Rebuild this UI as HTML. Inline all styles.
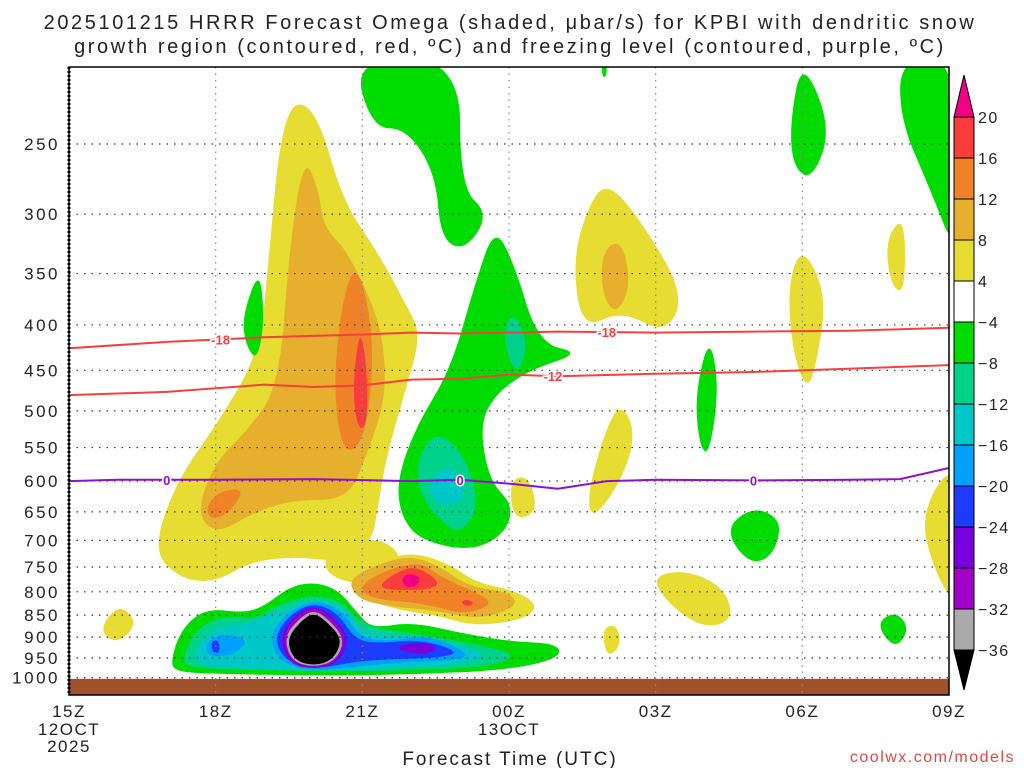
<!DOCTYPE html>
<html><head><meta charset="utf-8"><style>
body{margin:0;background:#fff;}
svg{display:block;font-family:"Liberation Sans",sans-serif;}
</style></head><body>
<svg id="chart" width="1024" height="768" viewBox="0 0 1024 768" xmlns="http://www.w3.org/2000/svg">
<text x="510" y="29" font-size="20" letter-spacing="2.6" text-anchor="middle" fill="#222">2025101215 HRRR Forecast Omega (shaded, μbar/s) for KPBI with dendritic snow</text>
<text x="510" y="53" font-size="20" letter-spacing="2.6" text-anchor="middle" fill="#222">growth region (contoured, red, ºC) and freezing level (contoured, purple, ºC)</text>
<defs><clipPath id="pc"><rect x="69" y="67" width="880" height="628"/></clipPath></defs>
<g id="shades" clip-path="url(#pc)"></g>
<g id="grid"></g>
<g id="contours" clip-path="url(#pc)"></g>
<rect x="69" y="67" width="880" height="628" fill="none" stroke="#000" stroke-width="1.5"/>
<g id="axes"></g>
<g id="cbar"></g>
<text x="510" y="765" font-size="19" letter-spacing="2" text-anchor="middle" fill="#222">Forecast Time (UTC)</text>
<text x="1015" y="762" font-size="16" letter-spacing="1.5" text-anchor="end" fill="#e04848">coolwx.com/models</text>
</svg>
<script>
const pressureTicks=[250,300,350,400,450,500,550,600,650,700,750,800,850,900,950,1000];
const timeTicks=["15Z","18Z","21Z","00Z","03Z","06Z","09Z"];
const cbLevels=["20","16","12","8","4","-4","-8","-12","-16","-20","-24","-28","-32","-36"];
const cbColors=["#fa3c3c","#f08228","#e6af2d","#e6dc32","#ffffff","#00dc00","#00d28c","#00c8c8","#00a0ff","#1e3cff","#7800dc","#a000c8","#aaaaaa"];
const colorOf={y:"#e6dc32",lo:"#e6af2d",o:"#f08228",r:"#fa3c3c",m:"#f00082",g:"#00dc00",t:"#00d28c",c:"#00c8c8",b:"#00a0ff",db:"#1e3cff",p:"#7800dc",v:"#a000c8",gr:"#aaaaaa",k:"#000000"};
const polys=[
["y",[[1.7,720],[2.2,600],[3.0,520],[3.9,430],[4.1,330],[4.3,250],[4.6,222],[5.1,232],[5.6,290],[6.3,330],[6.9,380],[7.2,410],[6.9,470],[6.5,560],[6.3,650],[6.2,700],[5.6,740],[4.6,730],[3.7,740],[3.0,780],[2.3,775]]],
["y",[[5.2,725],[6.3,690],[6.9,735],[6.2,790],[5.3,770]]],
["lo",[[2.6,650],[3.0,570],[3.6,530],[4.3,470],[4.5,330],[4.8,258],[5.1,280],[5.2,310],[5.7,330],[6.4,400],[6.5,480],[6.1,560],[5.7,630],[4.6,630],[3.8,650],[3.0,690]]],
["o",[[2.8,640],[3.1,615],[3.6,612],[3.3,650],[2.9,665]]],
["o",[[5.4,470],[5.6,370],[5.9,340],[6.2,400],[6.2,470],[6.0,545],[5.6,560]]],
["r",[[5.8,470],[5.95,400],[6.1,450],[6.1,520],[5.9,525]]],
["y",[[5.69,760],[6.2,745],[7.0,720],[7.8,745],[8.3,780],[9.2,800],[9.6,830],[9.3,860],[8.3,875],[7.5,850],[6.8,840],[6.0,815]]],
["lo",[[5.7,775],[6.3,745],[7.0,728],[7.6,750],[8.2,790],[9.0,800],[9.2,830],[8.4,860],[7.5,840],[6.5,830],[5.9,815]]],
["o",[[5.9,790],[6.5,755],[7.2,740],[7.6,770],[8.3,800],[8.7,825],[8.1,850],[7.3,825],[6.2,815]]],
["r",[[6.3,790],[6.7,760],[7.1,748],[7.6,780],[7.4,795],[6.7,797]]],
["m",[[6.8,770],[7.0,762],[7.2,772],[7.1,790],[6.85,790]]],
["r",[[8.0,822],[8.15,815],[8.3,825],[8.15,832]]],
["y",[[0.8,850],[1.1,830],[1.4,870],[1.0,915],[0.65,890]]],
["y",[[10.3,340],[10.6,295],[11.0,275],[11.7,305],[12.6,370],[12.2,410],[11.3,385],[10.5,405]]],
["lo",[[10.9,330],[11.3,320],[11.5,360],[11.2,390],[10.9,370]]],
["y",[[14.7,360],[15.0,325],[15.5,370],[15.3,440],[15.1,475],[14.8,430]]],
["y",[[10.6,620],[11.0,520],[11.3,490],[11.6,530],[11.3,600],[10.7,665]]],
["y",[[9.0,600],[9.4,590],[9.6,650],[9.1,665]]],
["y",[[11.9,770],[12.6,755],[13.4,790],[13.6,860],[13.0,880],[12.3,830]]],
["y",[[10.9,880],[11.2,870],[11.3,920],[11.0,950]]],
["y",[[16.7,320],[17.1,300],[17.1,370],[16.8,360]]],
["y",[[17.4,650],[18.2,560],[18.2,840],[17.7,760]]],
["g",[[5.8,200],[8.0,200],[8.0,280],[8.6,300],[8.1,330],[7.6,320],[7.5,270],[6.9,240],[6.2,240]]],
["g",[[10.9,200],[11.0,200],[11.0,210],[10.9,210]]],
["g",[[14.8,265],[14.75,235],[15.0,200],[15.6,240],[15.2,275]]],
["g",[[17.0,200],[18.2,200],[18.2,340],[17.6,280],[17.0,235]]],
["g",[[3.55,390],[3.9,345],[4.0,395],[3.85,440],[3.6,420]]],
["g",[[12.8,480],[13.1,410],[13.3,470],[13.1,560],[12.9,550]]],
["g",[[13.4,680],[14.0,640],[14.6,665],[14.4,730],[13.9,745]]],
["g",[[16.5,870],[16.9,840],[17.2,880],[16.9,930]]],
["g",[[6.7,600],[7.1,520],[7.8,450],[8.3,360],[8.7,310],[9.1,340],[9.6,420],[10.5,430],[9.4,450],[8.7,480],[8.4,520],[8.6,600],[9.1,640],[8.9,690],[8.2,720],[7.2,700],[6.8,660]]],
["t",[[7.1,570],[7.5,525],[8.1,560],[8.4,640],[8.0,690],[7.6,665],[7.2,625]]],
["c",[[7.3,605],[7.8,570],[8.2,625],[7.6,645]]],
["t",[[8.85,410],[9.1,385],[9.4,420],[9.15,460]]],
["g",[[2.07,960],[2.3,880],[2.8,835],[3.6,845],[4.0,830],[4.5,790],[5.0,780],[5.5,795],[5.9,845],[6.2,880],[7.0,865],[8.0,890],[9.0,910],[10.0,915],[10.05,950],[9.0,980],[7.0,992],[5.0,995],[3.0,990],[2.2,985]]],
["t",[[2.3,955],[2.6,880],[3.2,850],[3.8,860],[4.2,830],[5.0,805],[5.6,820],[6.0,875],[7.0,890],[8.5,920],[9.2,945],[8.5,975],[6.0,985],[3.5,980],[2.5,975]]],
["c",[[2.5,945],[2.9,880],[3.6,870],[4.1,850],[5.0,815],[5.7,835],[5.95,890],[7.2,900],[8.4,930],[8.5,960],[6.5,978],[4.5,982],[2.8,972]]],
["b",[[2.75,920],[3.1,890],[3.7,905],[3.4,940],[2.9,950]]],
["db",[[2.9,910],[3.05,905],[3.1,935],[2.95,940]]],
["b",[[4.1,900],[4.4,850],[5.0,815],[5.6,840],[5.95,900],[6.5,910],[7.3,895],[8.0,925],[8.2,955],[6.5,962],[5.0,985],[4.3,960]]],
["db",[[4.2,900],[4.5,850],[5.0,822],[5.5,845],[5.85,905],[6.3,915],[7.2,905],[8.0,935],[7.6,950],[6.0,955],[5.0,980],[4.4,955]]],
["p",[[4.3,900],[4.6,850],[5.0,828],[5.4,850],[5.75,905],[5.5,965],[5.0,978],[4.5,965]]],
["p",[[6.6,925],[7.2,910],[7.6,925],[7.2,945]]],
["v",[[4.35,900],[4.65,852],[5.0,833],[5.35,853],[5.7,905],[5.45,962],[5.0,975],[4.55,962]]],
["gr",[[4.4,900],[4.7,858],[5.0,838],[5.3,858],[5.65,905],[5.45,958],[5.0,973],[4.55,958]]],
["k",[[4.45,905],[4.75,862],[5.0,845],[5.25,862],[5.6,905],[5.4,955],[5.0,970],[4.6,955]]]
];
const isoM18=[[0,425],[2,418],[4,413],[6,410],[7,408],[8,409],[10,407],[12,408],[14,407],[16,406],[18,403]];
const isoM12=[[0,480],[2,476],[4,467],[5,470],[6,468],[7,461],[8,460],[9,455],[10,457],[12,454],[14,452],[16,448],[18,444]];
const iso0=[[0,600],[1,598],[3,598],[5,597],[7,600],[8,598],[9,604],[10,612],[11,600],[12,598],[14,599],[16,598],[17,597],[18,580]];
const lblM18=[3.1,11.0], lblM12=[9.9], lbl0=[2.0,8.0,14.0];

const NS="http://www.w3.org/2000/svg";
const X=h=>69+h*880/18;
const Y=p=>144+385*Math.log(p/250);
function mk(tag,attrs,parent){const e=document.createElementNS(NS,tag);for(const k in attrs)e.setAttribute(k,attrs[k]);parent.appendChild(e);return e;}
function smooth(pts){const P=pts.map(([h,p])=>[X(h),Y(p)]);const n=P.length;const mid=(a,b)=>[(a[0]+b[0])/2,(a[1]+b[1])/2];
 let m0=mid(P[n-1],P[0]);let d="M"+m0[0].toFixed(1)+","+m0[1].toFixed(1);
 for(let i=0;i<n;i++){const m=mid(P[i],P[(i+1)%n]);d+=" Q"+P[i][0].toFixed(1)+","+P[i][1].toFixed(1)+" "+m[0].toFixed(1)+","+m[1].toFixed(1);}return d+"Z";}
const sh=document.getElementById("shades");
polys.forEach(([k,pts])=>{const el=mk("path",{d:smooth(pts),fill:colorOf[k]},sh);
 
 });
const gnd=mk("rect",{x:69,y:Y(1003),width:880,height:40,fill:"#a0522d"},sh);



const gr=document.getElementById("grid");
pressureTicks.forEach(p=>{const l=mk("line",{x1:69,x2:949,y1:Y(p),y2:Y(p),stroke:"#333","stroke-width":1.2,"stroke-dasharray":"1.5 6"},gr);
 
 });
timeTicks.forEach((t,i)=>{if(i==0||i==timeTicks.length-1)return;const l=mk("line",{x1:X(i*3),x2:X(i*3),y1:67,y2:695,stroke:"#888","stroke-width":1.2,"stroke-dasharray":"1.5 5"},gr);
 
 });

const ct=document.getElementById("contours");
function drawLine(pts,col,lbls,txt,name){const d=pts.map(([h,p],i)=>(i?"L":"M")+X(h).toFixed(1)+","+Y(p).toFixed(1)).join(" ");
 const l=mk("path",{d:d,fill:"none",stroke:col,"stroke-width":2},ct);
 
 
 lbls.forEach(h=>{let p=pts[0][1];for(let i=0;i<pts.length-1;i++){if(h>=pts[i][0]&&h<=pts[i+1][0]){const f=(h-pts[i][0])/(pts[i+1][0]-pts[i][0]);p=pts[i][1]+f*(pts[i+1][1]-pts[i][1]);}}
  const t=mk("text",{x:X(h),y:Y(p)+5,"font-size":13,"font-weight":"bold","text-anchor":"middle",fill:col,stroke:"#fff","stroke-width":3,"paint-order":"stroke"},ct);t.textContent=txt;
  
  });}
drawLine(isoM18,"#f44040",lblM18,"-18","contour-minus18");
drawLine(isoM12,"#f44040",lblM12,"-12","contour-minus12");
drawLine(iso0,"#9010d0",lbl0,"0","freezing-level");

const ax=document.getElementById("axes");
for(let y=67;y<695;y+=4){mk("line",{x1:69,x2:69,y1:y,y2:y+2,stroke:"#000","stroke-width":3},ax);}
pressureTicks.forEach(p=>{const t=mk("text",{x:60,y:Y(p)+6,"font-size":17,"letter-spacing":"2.5","text-anchor":"end",fill:"#222"},ax);t.textContent=p;
 
 });
timeTicks.forEach((s,i)=>{const t=mk("text",{x:X(i*3),y:717,"font-size":17,"letter-spacing":"1.5","text-anchor":"middle",fill:"#222"},ax);t.textContent=s;
 
 });
[["12OCT",0,735],["2025",0,752],["13OCT",9,735]].forEach(([s,h,y])=>{const t=mk("text",{x:X(h),y:y,"font-size":17,"letter-spacing":"1.5","text-anchor":"middle",fill:"#222"},ax);t.textContent=s;
 
 });

const cb=document.getElementById("cbar");
const cbx=954,cbw=20,cbt=117,cbh=(650-117)/13;
const cbTopArrow=mk("path",{d:`M${cbx},${cbt} L${cbx+cbw/2},75 L${cbx+cbw},${cbt}Z`,fill:"#f00082",stroke:"#000"},cb);


cbColors.forEach((c,i)=>{const r=mk("rect",{x:cbx,y:cbt+i*cbh,width:cbw,height:cbh,fill:c,stroke:"#000"},cb);
 
 });
const cbBotArrow=mk("path",{d:`M${cbx},650 L${cbx+cbw/2},690 L${cbx+cbw},650Z`,fill:"#000",stroke:"#000"},cb);


cbLevels.forEach((s,i)=>{const t=mk("text",{x:978,y:cbt+i*cbh+6,"font-size":16,"letter-spacing":"1.5",fill:"#222"},cb);t.textContent=s.replace("-","−");
 
 });
</script>
</body></html>
